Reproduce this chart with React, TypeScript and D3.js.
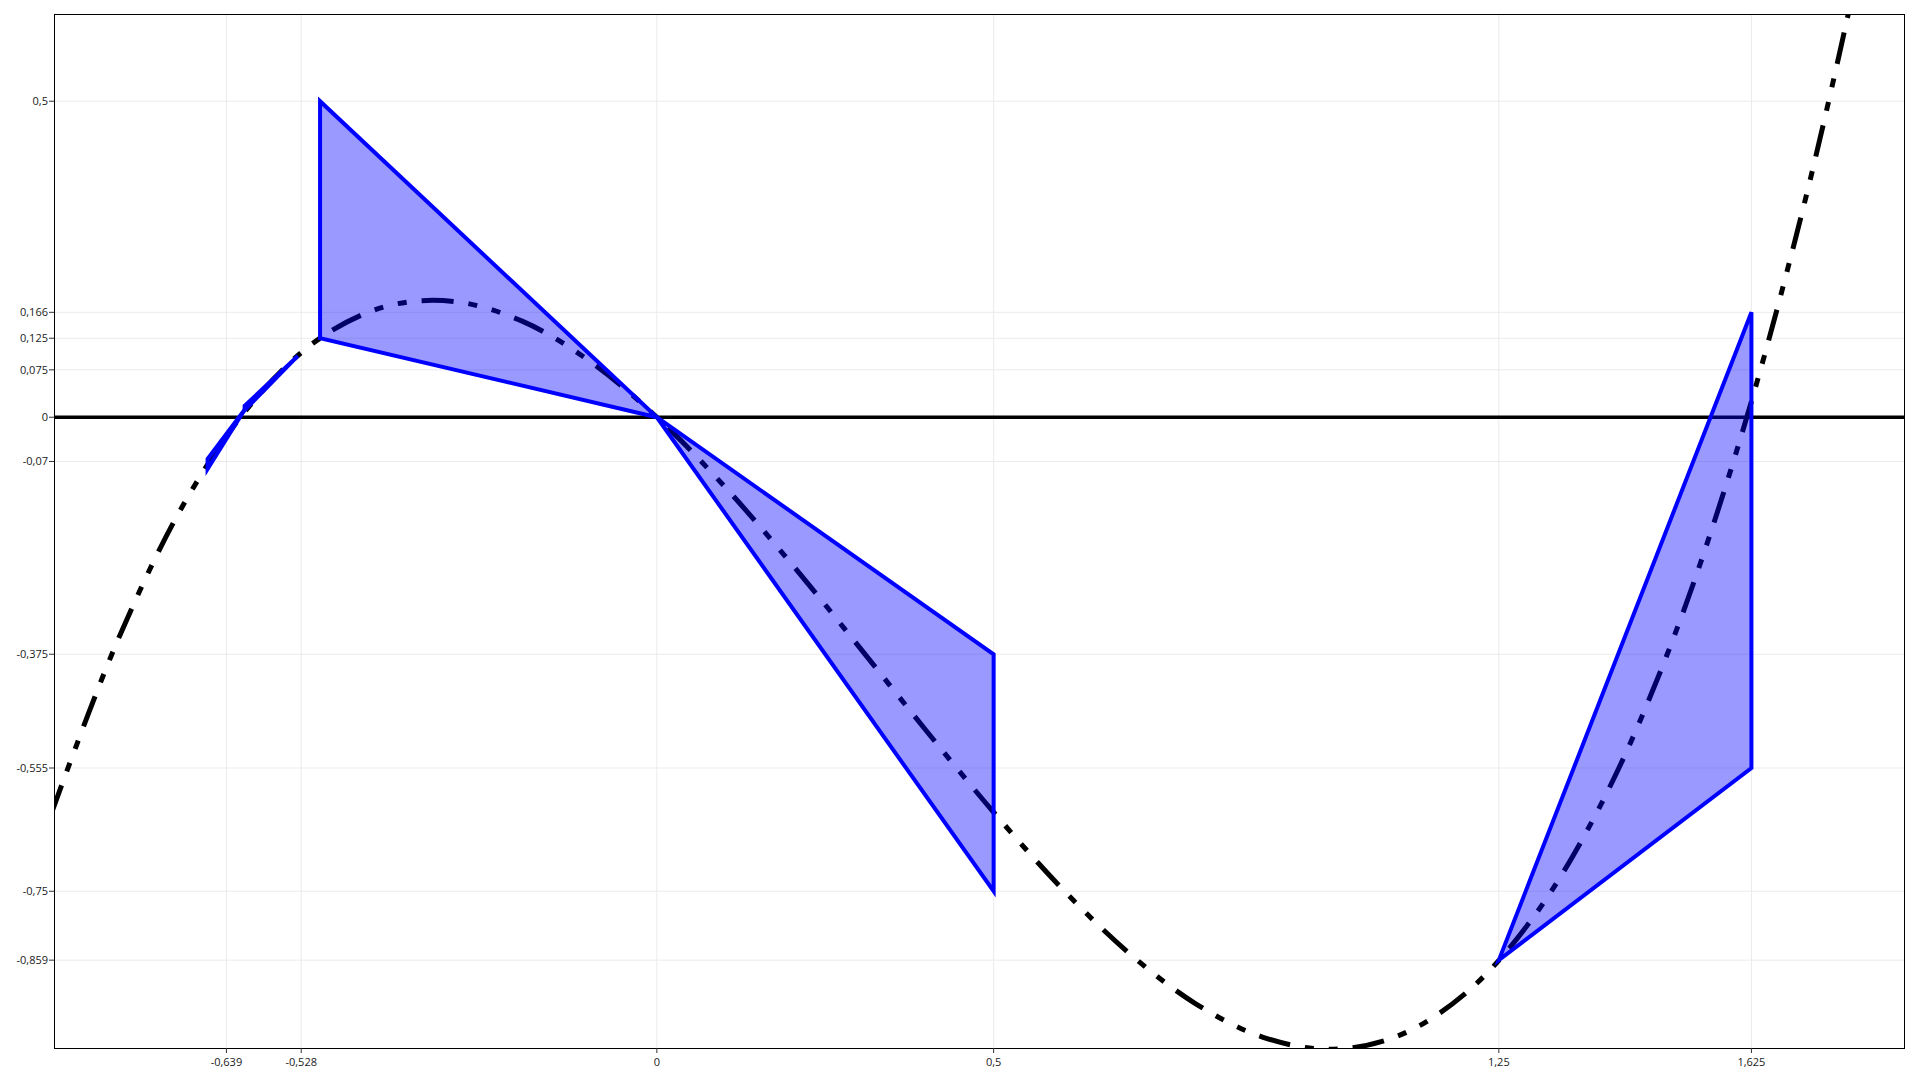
import React from "react";
import * as d3 from "d3";

// ---- data ----
const curveX = [-0.9, -0.8, -0.7, -0.6, -0.5, -0.4, -0.3, -0.2, -0.1, 0, 0.1, 0.2, 0.3, 0.4, 0.5, 0.6, 0.7, 0.8, 0.9, 1.0, 1.1, 1.2, 1.3, 1.4, 1.5, 1.6, 1.7, 1.8, 1.85];
const curveY = [-0.63, -0.352, -0.133, 0.024, 0.125, 0.176, 0.183, 0.152, 0.089, 0, -0.109, -0.232, -0.363, -0.496, -0.625, -0.744, -0.847, -0.928, -0.981, -1.0, -0.979, -0.912, -0.793, -0.616, -0.375, -0.064, 0.323, 0.792, 1.06];

// wedges: [x, y] vertices
const wedgeA: [number, number][] = [[0, 0], [-0.5, 0.5], [-0.5, 0.125]];
const wedgeB: [number, number][] = [[0, 0], [0.5, -0.375], [0.5, -0.75]];
const wedgeC: [number, number][] = [[1.25, -0.859], [1.625, 0.166], [1.625, -0.555]];
const wedgeD: [number, number][] = [[-0.612, 0.012], [-0.667, -0.066], [-0.667, -0.082]];
const wedgeE: [number, number][] = [[-0.533, 0.097], [-0.612, 0.018], [-0.612, 0.011]];
const wedges = [wedgeA, wedgeB, wedgeC, wedgeD, wedgeE];

const xTicks = [-0.639, -0.528, 0, 0.5, 1.25, 1.625];
const yTicks = [0.5, 0.166, 0.125, 0.075, 0, -0.07, -0.375, -0.555, -0.75, -0.859];
const xDomain: [number, number] = [-0.895, 1.853];
const yDomain: [number, number] = [-0.998, 0.638];

const fmt = (v: number) => String(v).replace(".", ",");

export default function App() {
  const W = 1920, H = 1080;
  const L = 54, R = 1905, T = 14, B = 1048;
  const x = d3.scaleLinear().domain(xDomain).range([L, R]);
  const y = d3.scaleLinear().domain(yDomain).range([B, T]);
  const pts: [number, number][] = curveX.map((v, i) => [v, curveY[i]]);
  const line = d3.line<[number, number]>().x(d => x(d[0])).y(d => y(d[1])).curve(d3.curveCatmullRom);
  const poly = d3.line<[number, number]>().x(d => x(d[0])).y(d => y(d[1]));
  const font = "'Open Sans', sans-serif";
  return (
    <svg width={W} height={H} style={{ position: "absolute", left: 0, top: 0, background: "#fff" }}>
      <defs>
        <clipPath id="plot">
          <rect x={L} y={T} width={R - L} height={B - T} />
        </clipPath>
      </defs>
      <rect x={0} y={0} width={W} height={H} fill="#fff" />
      {/* grid */}
      {xTicks.map(t => (
        <line key={"gx" + t} x1={x(t)} x2={x(t)} y1={T} y2={B} stroke="#ebebeb" strokeWidth={1} />
      ))}
      {yTicks.map(t => (
        <line key={"gy" + t} x1={L} x2={R} y1={y(t)} y2={y(t)} stroke="#ebebeb" strokeWidth={1} />
      ))}
      <g clipPath="url(#plot)">
        <line x1={L} x2={R} y1={y(0)} y2={y(0)} stroke="#000" strokeWidth={3.5} />
        <path d={line(pts) || ""} fill="none" stroke="#000" strokeWidth={5} strokeDasharray="32,15,9,15,9,15" />
        {wedges.map((w, i) => (
          <path key={"w" + i} d={(poly(w) || "") + "Z"} fill="#0000ff" fillOpacity={0.4} stroke="#0000ff" strokeWidth={4} />
        ))}
      </g>
      <rect x={L + 0.5} y={T + 0.5} width={R - L - 1} height={B - T} fill="none" stroke="#000" strokeWidth={1} />
      {/* y axis */}
      {yTicks.map(t => (
        <g key={"ty" + t}>
          <line x1={L - 5} x2={L} y1={y(t)} y2={y(t)} stroke="#333" strokeWidth={1} />
          <text x={L - 6} y={y(t)} dy="0.35em" textAnchor="end" fontFamily={font} fontSize={11} fill="#1a1a1a">{fmt(t)}</text>
        </g>
      ))}
      {/* x axis */}
      {xTicks.map(t => (
        <g key={"tx" + t}>
          <line x1={x(t)} x2={x(t)} y1={B} y2={B + 5} stroke="#333" strokeWidth={1} />
          <text x={x(t)} y={B + 18} textAnchor="middle" fontFamily={font} fontSize={11} fill="#1a1a1a">{fmt(t)}</text>
        </g>
      ))}
    </svg>
  );
}
